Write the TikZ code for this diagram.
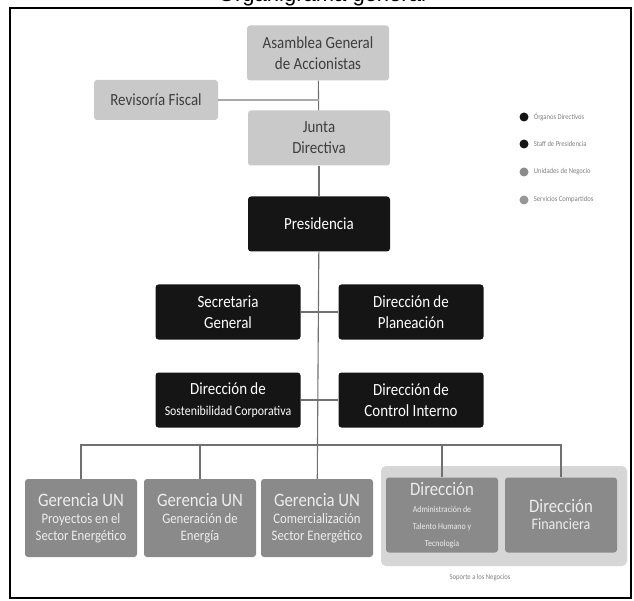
\documentclass[tikz,border=0pt]{standalone}
\usepackage{fontspec}
\usetikzlibrary{positioning}
\newfontfamily\orgfont[FakeStretch=0.88]{Carlito}
\newfontfamily\titlefont{Liberation Sans}
\definecolor{organogris}{HTML}{C9C9C9}
\definecolor{organotexto}{HTML}{3E3E3E}
\definecolor{staffnegro}{HTML}{151515}
\definecolor{unidadgris}{HTML}{8A8A8A}
\definecolor{unidadtexto}{HTML}{EDEDED}
\definecolor{soportegris}{HTML}{D6D6D6}
\definecolor{lineagris}{HTML}{707070}
\begin{document}
\begin{tikzpicture}[x=1pt,y=-1pt,
		organo/.style={fill=organogris, text=organotexto, rounded corners=3pt, align=center, inner sep=0pt,
			minimum width=142pt, minimum height=55pt, font=\orgfont\fontsize{17}{21}\selectfont},
		staff/.style={organo, fill=staffnegro, text=white, minimum width=145pt},
		negocio/.style={organo, fill=unidadgris, text=unidadtexto, minimum width=112pt, minimum height=78pt,
			font=\orgfont\fontsize{14.5}{17}\selectfont},
		linea/.style={draw=lineagris, line width=1.1pt},
		punto/.style={circle, inner sep=0pt, minimum size=9pt},
		leyenda/.style={right=5pt of #1, inner sep=0pt, text=gray, font=\orgfont\fontsize{7.5}{9}\selectfont}]
		\useasboundingbox (0,0) rectangle (634,601);
		\fill [white] (0,0) rectangle (634,601);
		\node [anchor=base, font=\titlefont\fontsize{22}{22}\selectfont] (titulo) at (322,1.5) {Organigrama general};
		\draw [line width=2pt] (10,8) rectangle (631,598);
		% soporte a los negocios
		\fill [soportegris, rounded corners=5pt] (381,466) rectangle (627,566);
		\node [text=gray, font=\orgfont\fontsize{7.5}{9}\selectfont] (soporte) at (480,578) {Soporte a los Negocios};
		% organos directivos
		\node [organo] (asamblea) at (318,53) {Asamblea General\\de Accionistas};
		\node [organo, minimum width=124pt, minimum height=40pt] (revisoria) at (156,100) {Revisoría Fiscal};
		\node [organo] (junta) at (319,138) {Junta\\Directiva};
		\node [staff, minimum width=142pt] (presidencia) at (319,224) {Presidencia};
		% staff
		\node [staff] (secretaria) at (228,312) {Secretaria\\General};
		\node [staff] (planeacion) at (411,312) {Dirección de\\Planeación};
		\node [staff] (sostenibilidad) at (228,400) {Dirección de\\{\fontsize{13.5}{15}\selectfont Sostenibilidad Corporativa}};
		\node [staff] (control) at (411,400) {Dirección de\\Control Interno};
		% unidades
		\node [negocio] (proyectos) at (81,518) {{\fontsize{19}{21}\selectfont Gerencia UN}\\Proyectos en el\\Sector Energético};
		\node [negocio] (generacion) at (200,518) {{\fontsize{19}{21}\selectfont Gerencia UN}\\Generación de\\Energía};
		\node [negocio] (comercializacion) at (317,518) {{\fontsize{19}{21}\selectfont Gerencia UN}\\Comercialización\\Sector Energético};
		\node [negocio, minimum height=75pt] (talento) at (442,515) {{\fontsize{19}{21}\selectfont Dirección}\\{\fontsize{9}{10}\selectfont Administración de}\\{\fontsize{9}{10}\selectfont Talento Humano y}\\{\fontsize{9}{10}\selectfont Tecnología}};
		\node [negocio, minimum height=75pt] (financiera) at (561,515) {{\fontsize{19}{23}\selectfont Dirección}\\{\fontsize{16}{19}\selectfont Financiera}};
		% leyenda
		\node [punto, fill=staffnegro] (l1) at (524,117) {};
		\node [leyenda=l1] (t1) {Órganos Directivos};
		\node [punto, fill=staffnegro] (l2) at (524,144) {};
		\node [leyenda=l2] (t2) {Staff de Presidencia};
		\node [punto, fill=unidadgris] (l3) at (524,172) {};
		\node [leyenda=l3] (t3) {Unidades de Negocio};
		\node [punto, fill=organogris!75!black] (l4) at (524,200) {};
		\node [leyenda=l4] (t4) {Servicios Compartidos};
		% conectores
		\coordinate (barra) at (319,445);
		\draw [linea] (asamblea) -- (junta);
		\draw [linea, draw=lineagris!60] (revisoria.east) -- (revisoria.east -| junta.north);
		\draw [linea] (junta) -- (presidencia);
		\draw [linea] (presidencia) -- (comercializacion);
		\draw [linea] (secretaria) -- (planeacion);
		\draw [linea] (sostenibilidad) -- (control);
		\draw [linea] (proyectos.north) -- (proyectos.north |- barra) -- (financiera.north |- barra) -- (financiera.north);
		\draw [linea] (generacion.north) -- (generacion.north |- barra);
		\draw [linea] (talento.north) -- (talento.north |- barra);
\end{tikzpicture}
\end{document}
